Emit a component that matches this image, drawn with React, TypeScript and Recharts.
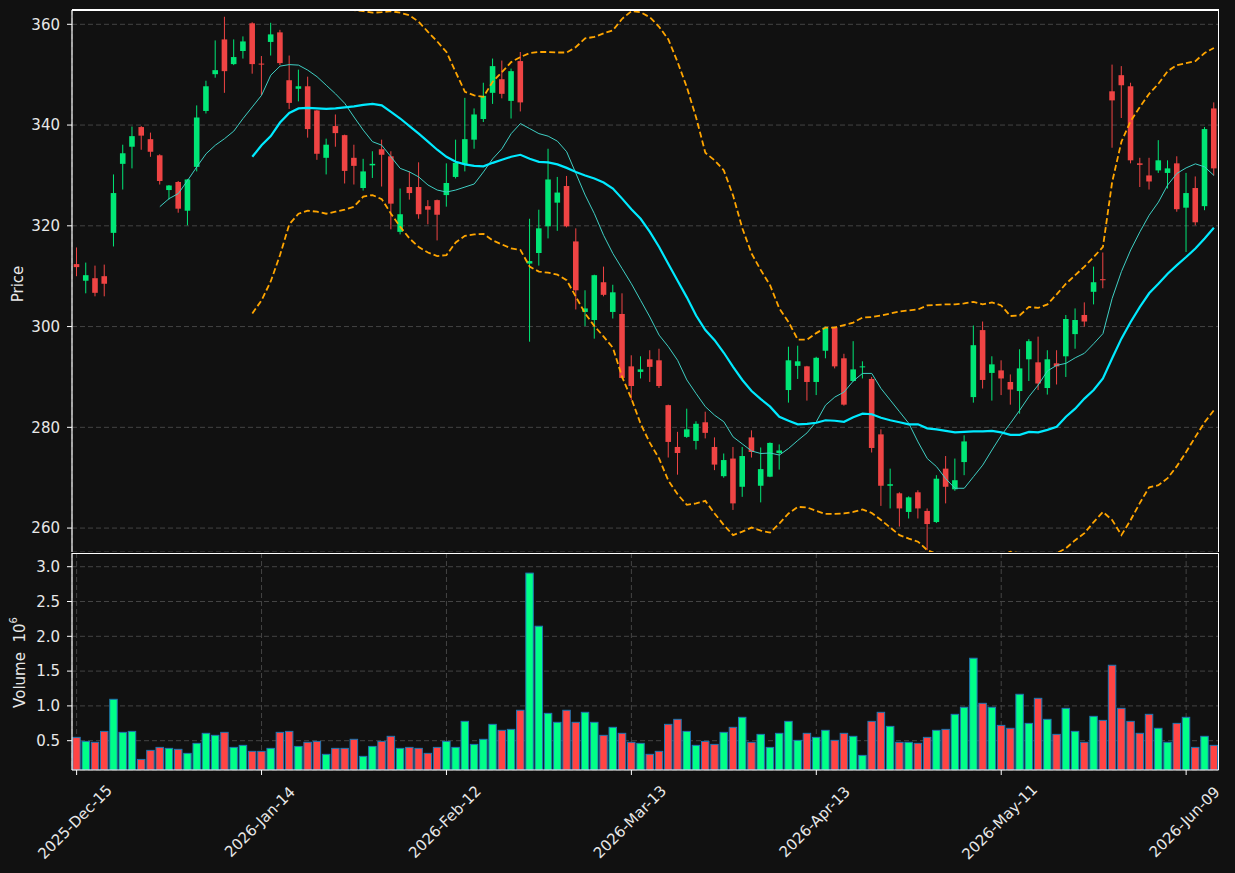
import React from 'react';
import { ComposedChart, Bar, Line, XAxis, YAxis, CartesianGrid } from 'recharts';

const tickLabels = ['2025-Dec-15', '2026-Jan-14', '2026-Feb-12', '2026-Mar-13', '2026-Apr-13', '2026-May-11', '2026-Jun-09'];
const priceTicks = [260, 280, 300, 320, 340, 360];
const volumeTicks = [0.5, 1.0, 1.5, 2.0, 2.5, 3.0];

const opens = [
  312.4, 309.1, 309.6, 310.0, 318.6, 332.3, 335.7, 339.6, 337.2, 334.0,
  327.1, 328.7, 323.0, 331.7, 342.8, 350.1, 357.0, 352.1, 354.7, 360.2,
  352.2, 356.5, 358.4, 348.9, 347.2, 347.7, 342.9, 333.5, 339.8, 338.0,
  333.5, 327.5, 332.0, 335.2, 333.8, 318.8, 327.7, 327.7, 323.9, 325.1,
  326.1, 329.7, 332.2, 337.1, 341.2, 346.4, 349.1, 344.8, 352.7, 312.5,
  314.6, 319.9, 324.6, 327.9, 316.9, 302.9, 301.3, 308.8, 302.9, 302.5,
  292.1, 291.0, 293.5, 293.3, 284.4, 276.1, 278.1, 277.3, 281.0, 276.1,
  270.3, 273.8, 268.2, 278.0, 268.4, 270.2, 274.9, 287.4, 292.2, 292.1,
  289.0, 295.2, 299.8, 293.7, 289.2, 291.9, 289.6, 278.6, 268.4, 266.9,
  263.2, 267.1, 263.4, 261.2, 271.8, 267.7, 273.1, 286.0, 299.3, 290.8,
  291.3, 289.0, 287.2, 293.5, 292.9, 287.8, 292.7, 294.1, 298.5, 302.3,
  306.9, 309.4, 346.7, 349.9, 347.7, 332.4, 330.0, 331.0, 330.5, 332.4,
  323.6, 327.5, 323.9, 343.3,
];

const highs = [
  315.7, 312.7, 312.1, 312.3, 330.2, 336.1, 339.7, 339.8, 338.5, 334.2,
  328.1, 328.9, 329.3, 343.9, 348.8, 356.8, 361.5, 357.0, 357.6, 360.4,
  353.7, 360.3, 358.9, 353.8, 351.0, 349.6, 343.0, 337.3, 342.1, 338.1,
  336.1, 333.3, 334.8, 337.1, 334.8, 327.4, 330.8, 332.6, 325.1, 325.2,
  332.4, 337.1, 345.4, 343.3, 348.4, 353.2, 352.8, 351.2, 354.5, 321.4,
  323.2, 335.3, 329.7, 329.9, 319.5, 307.2, 310.3, 311.9, 308.3, 306.6,
  294.3, 294.1, 295.3, 295.6, 284.5, 279.1, 283.7, 281.2, 283.1, 278.0,
  274.8, 276.1, 276.1, 279.4, 276.0, 277.0, 276.6, 296.0, 296.2, 292.2,
  294.0, 300.0, 300.0, 294.6, 297.1, 293.1, 290.0, 279.6, 271.8, 267.1,
  266.3, 267.5, 263.9, 270.5, 274.3, 273.8, 278.4, 300.2, 301.0, 294.1,
  293.3, 290.5, 295.5, 297.5, 298.0, 295.3, 295.3, 302.3, 303.6, 304.8,
  311.9, 314.7, 352.0, 351.7, 348.4, 333.5, 333.5, 337.0, 333.0, 333.8,
  330.5, 329.8, 339.6, 344.5,
];

const lows = [
  310.0, 306.6, 306.0, 306.0, 315.9, 327.2, 331.4, 335.1, 333.7, 328.2,
  325.2, 322.6, 320.1, 330.8, 342.3, 349.4, 346.4, 351.9, 353.2, 350.2,
  345.9, 353.8, 351.9, 343.2, 344.7, 337.5, 333.1, 330.2, 335.7, 328.4,
  328.2, 327.0, 329.5, 327.8, 319.3, 318.3, 325.2, 321.4, 320.3, 317.1,
  323.8, 329.4, 330.8, 335.3, 340.6, 344.2, 345.3, 341.3, 342.7, 297.0,
  312.1, 317.5, 319.0, 319.7, 303.4, 300.1, 297.6, 306.0, 301.6, 289.7,
  285.4, 289.7, 289.0, 287.8, 274.0, 270.6, 277.9, 275.6, 277.8, 271.5,
  270.0, 263.6, 266.2, 274.0, 265.1, 270.1, 271.6, 284.9, 289.6, 285.3,
  286.4, 293.7, 291.7, 284.3, 289.1, 289.7, 275.0, 264.4, 263.9, 260.3,
  261.9, 261.9, 255.6, 261.0, 264.9, 267.4, 270.5, 284.9, 287.7, 285.3,
  286.4, 284.5, 282.7, 289.2, 287.4, 286.5, 288.5, 290.0, 295.6, 300.0,
  304.4, 307.6, 335.5, 341.4, 332.4, 327.7, 327.2, 330.5, 327.4, 322.8,
  314.8, 320.1, 323.1, 330.0,
];

const closes = [
  311.8, 310.2, 306.7, 308.5, 326.5, 334.4, 337.8, 337.9, 334.7, 328.9,
  328.0, 323.4, 329.2, 341.5, 347.7, 350.9, 350.7, 353.5, 356.6, 352.1,
  352.1, 358.0, 352.3, 344.4, 347.7, 339.2, 334.3, 336.1, 338.4, 330.9,
  331.9, 330.8, 332.3, 334.1, 324.4, 322.3, 326.5, 322.3, 323.2, 322.2,
  328.5, 332.5, 337.2, 342.1, 345.8, 351.7, 346.2, 350.7, 344.5, 313.0,
  319.5, 329.2, 326.6, 319.9, 307.2, 303.6, 310.2, 306.3, 306.8, 289.8,
  288.2, 291.5, 292.0, 288.2, 277.1, 274.9, 279.6, 280.7, 278.9, 272.6,
  273.5, 264.9, 274.3, 275.1, 271.7, 276.9, 275.4, 293.3, 293.1, 289.0,
  293.8, 299.8, 292.1, 284.5, 291.5, 292.1, 275.9, 268.4, 268.7, 263.9,
  266.1, 263.9, 260.8, 269.8, 268.2, 269.5, 277.2, 296.3, 289.4, 292.5,
  289.7, 287.5, 291.7, 297.1, 288.7, 293.5, 292.1, 301.5, 301.3, 301.0,
  308.8, 309.2, 344.9, 347.9, 333.0, 332.1, 328.8, 333.0, 331.4, 323.3,
  326.5, 320.7, 339.2, 331.4,
];

// volume in millions
const volumes = [
  0.548, 0.49, 0.477, 0.634, 1.095, 0.62, 0.634, 0.231, 0.361, 0.404,
  0.39, 0.376, 0.318, 0.462, 0.606, 0.577, 0.62, 0.404, 0.433, 0.347,
  0.347, 0.39, 0.62, 0.634, 0.418, 0.477, 0.49, 0.304, 0.39, 0.39,
  0.52, 0.275, 0.418, 0.49, 0.563, 0.39, 0.404, 0.39, 0.318, 0.404,
  0.49, 0.404, 0.778, 0.447, 0.52, 0.735, 0.649, 0.663, 0.937, 2.908,
  2.145, 0.893, 0.764, 0.937, 0.764, 0.908, 0.764, 0.577, 0.692, 0.606,
  0.477, 0.462, 0.304, 0.347, 0.735, 0.807, 0.634, 0.433, 0.49, 0.447,
  0.62, 0.692, 0.836, 0.477, 0.591, 0.404, 0.606, 0.778, 0.505, 0.606,
  0.548, 0.649, 0.505, 0.606, 0.563, 0.289, 0.778, 0.908, 0.706, 0.477,
  0.477, 0.462, 0.548, 0.649, 0.663, 0.879, 0.98, 1.685, 1.037, 0.98,
  0.72, 0.678, 1.167, 0.749, 1.109, 0.807, 0.591, 0.965, 0.634, 0.477,
  0.85, 0.792, 1.584, 0.965, 0.778, 0.606, 0.879, 0.678, 0.477, 0.749,
  0.836, 0.404, 0.563, 0.433,
];

const ma10 = [
  null, null, null, null, null, null, null, null, null, 323.8,
  325.4, 326.4, 329.0, 331.7, 334.3, 336.0, 337.3, 338.8, 341.3, 343.6,
  345.9, 349.9, 351.7, 352.0, 351.9, 350.9, 349.6, 347.9, 346.2, 344.3,
  341.6, 339.0, 336.7, 336.0, 333.7, 331.4, 330.7, 329.7, 328.1, 327.1,
  326.7, 327.1, 327.7, 328.3, 330.7, 333.3, 335.3, 338.3, 340.3, 339.3,
  338.3, 337.8, 336.8, 334.7, 330.4, 326.1, 322.4, 318.1, 314.5, 311.5,
  308.5, 305.2, 301.9, 298.3, 296.0, 293.3, 289.4, 286.7, 284.1, 282.4,
  281.1, 278.1, 276.7, 275.3, 274.8, 274.9, 274.5, 275.8, 277.4, 278.9,
  281.1, 284.4, 286.0, 287.0, 289.2, 290.7, 290.7, 287.7, 285.4, 283.1,
  280.8, 277.1, 273.8, 272.2, 269.8, 267.9, 267.9, 270.2, 272.5, 275.5,
  278.4, 280.8, 283.4, 286.1, 288.4, 291.2, 292.3, 292.7, 293.8, 294.7,
  296.6, 298.6, 305.6, 310.9, 315.2, 318.8, 322.1, 324.7, 328.1, 330.4,
  331.5, 332.3, 331.7, 330.0,
];

const ma20 = [
  null, null, null, null, null, null, null, null, null, null,
  null, null, null, null, null, null, null, null, null, 333.7,
  336.0, 337.8, 340.5, 342.4, 343.3, 343.4, 343.3, 343.2, 343.3, 343.5,
  343.7, 344.0, 344.2, 343.9, 342.6, 341.3, 339.8, 338.3, 336.7, 335.1,
  333.7, 332.7, 332.2, 331.9, 331.8, 332.5, 333.1, 333.7, 334.1, 333.3,
  332.7, 332.6, 332.2, 331.5, 330.7, 330.0, 329.4, 328.6, 327.4, 325.4,
  323.3, 321.4, 318.8, 315.8, 312.4, 309.1, 305.8, 302.2, 299.3, 297.3,
  294.8, 292.0, 289.4, 287.2, 285.6, 284.1, 282.1, 281.3, 280.6, 280.7,
  280.9, 281.4, 281.3, 281.1, 282.0, 282.7, 282.6, 281.9, 281.4, 281.0,
  280.6, 280.6, 279.8, 279.6, 279.3, 279.0, 279.1, 279.2, 279.2, 279.3,
  279.0, 278.5, 278.5, 279.1, 279.0, 279.5, 280.1, 282.1, 283.7, 285.7,
  287.4, 289.7, 293.7, 297.6, 300.9, 303.9, 306.6, 308.5, 310.5, 312.2,
  313.8, 315.5, 317.5, 319.6,
];

const bbUpper = [
  null, null, null, null, null, null, null, null, null, null,
  null, null, null, null, null, null, null, null, null, 364.8,
  366.6, 366.8, 366.8, 364.5, 364.2, 363.8, 363.8, 364.0, 363.8, 363.6,
  362.8, 362.6, 362.3, 362.4, 362.6, 362.3, 361.8, 360.5, 358.5, 356.6,
  354.5, 350.5, 346.6, 345.9, 345.6, 348.6, 350.5, 352.5, 353.5, 354.3,
  354.5, 354.5, 354.4, 354.4, 355.5, 357.2, 357.5, 358.2, 358.8, 361.1,
  362.6, 362.4, 361.4, 359.5, 357.0, 352.5, 347.5, 341.5, 334.5, 333.0,
  331.0, 326.0, 319.5, 314.5, 311.2, 308.2, 303.6, 300.9, 297.4, 297.4,
  298.7, 299.8, 299.8, 300.3, 300.8, 301.8, 301.9, 302.2, 302.6, 303.0,
  303.2, 303.4, 304.2, 304.3, 304.4, 304.4, 304.6, 304.9, 304.4, 304.8,
  304.2, 302.1, 302.2, 303.9, 303.7, 304.4, 306.4, 308.5, 310.2, 311.9,
  313.8, 315.8, 328.7, 336.7, 340.8, 343.6, 346.2, 348.2, 350.7, 351.9,
  352.3, 352.7, 354.3, 355.3,
];

const bbLower = [
  null, null, null, null, null, null, null, null, null, null,
  null, null, null, null, null, null, null, null, null, 302.6,
  305.2, 309.0, 314.2, 320.3, 322.4, 323.0, 322.8, 322.4, 322.8, 323.2,
  323.8, 325.8, 326.1, 325.3, 322.4, 319.8, 317.5, 315.8, 314.7, 314.0,
  314.2, 316.7, 318.0, 318.3, 318.4, 317.1, 316.3, 315.5, 315.2, 311.9,
  310.9, 310.7, 310.3, 309.2, 305.9, 302.6, 300.1, 298.0, 295.8, 290.0,
  285.7, 280.7, 276.9, 273.8, 269.4, 266.7, 264.6, 264.9, 265.4, 262.9,
  260.6, 258.6, 259.3, 260.1, 259.5, 259.1, 260.9, 262.9, 264.2, 264.1,
  263.4, 262.8, 262.8, 262.9, 263.2, 263.7, 263.0, 261.6, 260.1, 258.6,
  257.9, 257.3, 255.6, 254.9, 254.0, 253.5, 253.5, 254.3, 255.0, 254.8,
  254.5, 255.3, 255.0, 254.5, 254.2, 254.5, 255.0, 256.0, 257.6, 259.0,
  261.2, 263.2, 261.6, 258.6, 261.6, 265.0, 268.1, 268.5, 269.9, 272.3,
  275.1, 278.1, 281.0, 283.4,
];

const data = opens.map((o, i) => ({
  i,
  open: o,
  high: highs[i],
  low: lows[i],
  close: closes[i],
  volume: volumes[i],
  ma10: ma10[i],
  ma20: ma20[i],
  upper: bbUpper[i],
  lower: bbLower[i],
}));

const BG = '#111111';
const FRAME = '#ffffff';
const GRID = '#444444';
const TXT = '#e8e8e8';
const UP = '#00e676';
const DOWN = '#ef4444';
const VUP = '#00ff88';
const VDOWN = '#ff4444';
const EDGE = '#1f77b4';
const FONT = '"DejaVu Sans", sans-serif';

const CandleShape = (props: any) => {
  const { x, y, width, height, payload } = props;
  if (!payload) return null;
  const { open, close, high, low } = payload;
  const top = Math.min(y, y + height);
  const h = Math.abs(height);
  const color = close >= open ? UP : DOWN;
  const toPx = (v: number) => top + ((high - v) / (high - low)) * h;
  const cx = x + width / 2;
  const bw = width * 0.62;
  const bTop = toPx(Math.max(open, close));
  const bBot = toPx(Math.min(open, close));
  return (
    <g>
      <line x1={cx} x2={cx} y1={top} y2={top + h} stroke={color} strokeWidth={1} />
      <rect x={cx - bw / 2} y={bTop} width={bw} height={Math.max(bBot - bTop, 1)} fill={color} />
    </g>
  );
};

const VolShape = (props: any) => {
  const { x, y, width, height, payload } = props;
  if (!payload) return null;
  const w = width * 0.83;
  const up = payload.close >= payload.open;
  return (
    <rect
      x={x + (width - w) / 2}
      y={Math.min(y, y + height)}
      width={w}
      height={Math.abs(height)}
      fill={up ? VUP : VDOWN}
      stroke={EDGE}
      strokeWidth={1}
    />
  );
};

const XTick = (props: any) => {
  const { x, y, payload } = props;
  const idx = Math.round(payload.value / 20);
  const label = tickLabels[idx];
  if (!label) return null;
  const cx = x - 1.5;
  const cy = y + 45;
  return (
    <text
      x={cx}
      y={cy}
      textAnchor="middle"
      dominantBaseline="central"
      fill={TXT}
      fontSize={15}
      fontFamily={FONT}
      transform={`rotate(-45, ${cx}, ${cy})`}
    >
      {label}
    </text>
  );
};

const PriceLabel = (props: any) => {
  const vb = props.viewBox || { x: 0, y: 10, width: 72, height: 542 };
  const cx = 18;
  const cy = vb.y + vb.height / 2 + 3;
  return (
    <text x={cx} y={cy} textAnchor="middle" dominantBaseline="central" fill={TXT} fontSize={15} fontFamily={FONT} transform={`rotate(-90, ${cx}, ${cy})`}>
      Price
    </text>
  );
};

const VolLabel = (props: any) => {
  const vb = props.viewBox || { x: 0, y: 0, width: 72, height: 217 };
  const cx = 20;
  const cy = vb.y + vb.height / 2 + 1;
  return (
    <text x={cx} y={cy} textAnchor="middle" dominantBaseline="central" fill={TXT} fontSize={15} fontFamily={FONT} transform={`rotate(-90, ${cx}, ${cy})`}>
      {'Volume\u00a0\u00a010'}
      <tspan dy={-7} fontSize={10}>6</tspan>
    </text>
  );
};

// plot-area edges (page pixels) used only for the frame decoration
const PLOT_LEFT = 72;
const PLOT_RIGHT = 1218.5;

export default function App() {
  const tickStyle = { fill: TXT, fontSize: 15, fontFamily: FONT };
  const lineStyle: React.CSSProperties = { position: 'absolute', background: FRAME, pointerEvents: 'none' };
  return (
    <div style={{ position: 'absolute', left: 0, top: 0, width: 1235, height: 873, background: BG, overflow: 'hidden', fontFamily: FONT }}>
      <div style={{ position: 'absolute', left: 0, top: 0 }}>
        <ComposedChart width={1235} height={552} data={data} margin={{ top: 10, right: 16.5, bottom: 0, left: 0 }} barCategoryGap={0} barGap={0}>
          <CartesianGrid stroke={GRID} strokeDasharray="5 3" strokeWidth={1} />
          <XAxis dataKey="i" type="category" interval={19} height={0} tick={false} tickLine={false} axisLine={{ stroke: FRAME, strokeWidth: 1.2 }} />
          <YAxis
            type="number"
            domain={[255.25, 362.84]}
            allowDataOverflow
            ticks={priceTicks}
            width={72}
            tickSize={5}
            tickMargin={7}
            tick={tickStyle}
            tickLine={{ stroke: FRAME }}
            axisLine={{ stroke: FRAME, strokeWidth: 1.2 }}
            label={<PriceLabel />}
          />
          <Bar dataKey={(d: any) => [d.low, d.high]} shape={<CandleShape />} isAnimationActive={false} />
          <Line type="linear" dataKey="ma10" stroke="#3fcfc4" strokeWidth={1} dot={false} activeDot={false} isAnimationActive={false} />
          <Line type="linear" dataKey="ma20" stroke="#00eaff" strokeWidth={2.2} dot={false} activeDot={false} isAnimationActive={false} />
          <Line type="linear" dataKey="upper" stroke="#ffa500" strokeWidth={1.8} strokeDasharray="6 3" dot={false} activeDot={false} isAnimationActive={false} />
          <Line type="linear" dataKey="lower" stroke="#ffa500" strokeWidth={1.8} strokeDasharray="6 3" dot={false} activeDot={false} isAnimationActive={false} />
        </ComposedChart>
      </div>
      <div style={{ position: 'absolute', left: 0, top: 553 }}>
        <ComposedChart width={1235} height={320} data={data} margin={{ top: 0, right: 16.5, bottom: 0, left: 0 }} barCategoryGap={0} barGap={0}>
          <CartesianGrid stroke={GRID} strokeDasharray="5 3" strokeWidth={1} />
          <XAxis dataKey="i" type="category" interval={19} height={103} tickSize={5} tickLine={{ stroke: FRAME }} axisLine={{ stroke: FRAME, strokeWidth: 1.2 }} tick={<XTick />} />
          <YAxis
            type="number"
            domain={[0.079, 3.197]}
            allowDataOverflow
            ticks={volumeTicks}
            tickFormatter={(v: number) => v.toFixed(1)}
            width={72}
            tickSize={5}
            tickMargin={7}
            tick={tickStyle}
            tickLine={{ stroke: FRAME }}
            axisLine={{ stroke: FRAME, strokeWidth: 1.2 }}
            label={<VolLabel />}
          />
          <Bar dataKey="volume" shape={<VolShape />} isAnimationActive={false} />
        </ComposedChart>
      </div>
      {/* frame: top and right edges of both panels */}
      <div style={{ ...lineStyle, left: PLOT_LEFT, top: 9.4, width: PLOT_RIGHT - PLOT_LEFT, height: 1.2 }} />
      <div style={{ ...lineStyle, left: PLOT_RIGHT - 0.6, top: 10, width: 1.2, height: 542 }} />
      <div style={{ ...lineStyle, left: PLOT_LEFT, top: 552.9, width: PLOT_RIGHT - PLOT_LEFT, height: 1.2 }} />
      <div style={{ ...lineStyle, left: PLOT_RIGHT - 0.6, top: 553, width: 1.2, height: 217 }} />
    </div>
  );
}
